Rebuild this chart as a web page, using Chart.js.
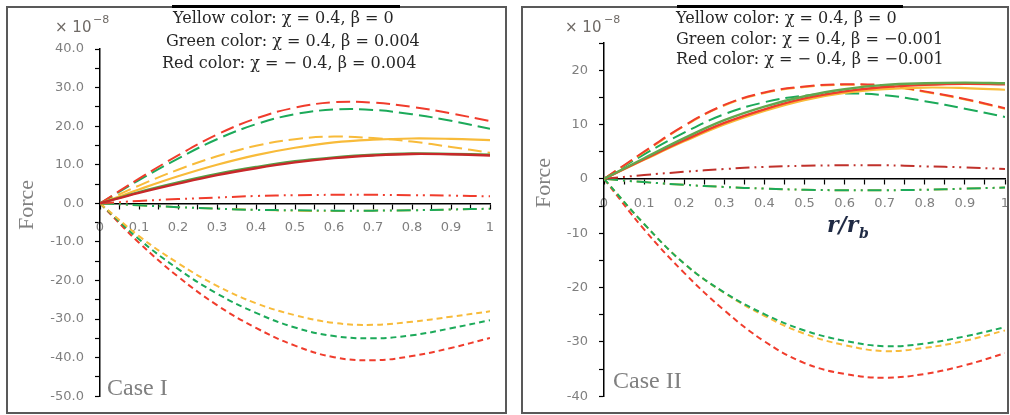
<!DOCTYPE html>
<html>
<head>
<meta charset="utf-8">
<script src="https://cdn.jsdelivr.net/npm/chart.js@4.4.0/dist/chart.umd.min.js"></script>
<style>
  html, body { margin: 0; padding: 0; background: #fff; }
  body { width: 1010px; height: 415px; position: relative; overflow: hidden; }
  canvas { position: absolute; top: 0; }
  .frame { position: absolute; top: 6px; height: 408px; border: 2px solid #595959; box-sizing: border-box; pointer-events: none; }
  .bar { position: absolute; top: 5px; height: 3px; background: #000; }
</style>
</head>
<body>
<canvas id="caseOne" width="505" height="415" style="left:0"></canvas>
<canvas id="caseTwo" width="505" height="415" style="left:505px"></canvas>
<div class="frame" style="left:6px;width:501px"></div>
<div class="frame" style="left:521px;width:488px"></div>
<div class="bar" style="left:172px;width:228px"></div>
<div class="bar" style="left:677px;width:226px"></div>
<script>
// radial coordinate r/r_b
const r = [0, 0.1, 0.2, 0.3, 0.4, 0.5, 0.6, 0.7, 0.8, 0.9, 1];

// Case I  (yellow: chi=0.4, beta=0; green: chi=0.4, beta=0.004; red: chi=-0.4, beta=0.004)
const c1YellowSolid = [0, 3.6, 7.0, 10.0, 12.5, 14.4, 15.8, 16.5, 16.8, 16.7, 16.4];
const c1GreenSolid  = [0, 2.9, 5.4, 7.6, 9.4, 10.9, 11.9, 12.6, 12.9, 12.8, 12.6];
const c1RedSolid    = [0, 2.7, 5.1, 7.3, 9.1, 10.6, 11.7, 12.4, 12.8, 12.7, 12.4];
const c1YellowLong  = [0, 4.6, 8.7, 12.2, 14.9, 16.6, 17.3, 16.9, 16.0, 14.6, 13.1];
const c1GreenLong   = [0, 6.0, 11.6, 16.6, 20.5, 23.1, 24.3, 24.2, 23.1, 21.4, 19.3];
const c1RedLong     = [0, 6.4, 12.4, 17.8, 22.0, 24.8, 26.2, 26.1, 25.0, 23.3, 21.3];
const c1RedDot      = [0, 0.6, 1.1, 1.5, 1.9, 2.1, 2.2, 2.2, 2.1, 2.0, 1.8];
const c1GreenDot    = [0, -0.5, -1.0, -1.4, -1.7, -1.8, -1.9, -1.9, -1.8, -1.6, -1.4];
const c1YellowDot   = [0, -0.5, -1.0, -1.4, -1.7, -1.9, -2.0, -1.9, -1.8, -1.6, -1.4];
const c1YellowShort = [0, -8.5, -15.5, -21.4, -25.9, -29.0, -31.0, -31.5, -30.7, -29.4, -28.0];
const c1GreenShort  = [0, -9.3, -17.0, -23.4, -28.4, -32.2, -34.4, -35.0, -34.2, -32.4, -30.3];
const c1RedShort    = [0, -10.2, -19.0, -26.4, -32.3, -36.9, -39.9, -40.7, -39.6, -37.5, -34.9];

// Case II (yellow: chi=0.4, beta=0; green: chi=0.4, beta=-0.001; red: chi=-0.4, beta=-0.001)
const c2YellowSolid = [0, 3.5, 6.9, 10.0, 12.5, 14.5, 15.8, 16.5, 16.8, 16.7, 16.4];
const c2GreenSolid  = [0, 3.8, 7.5, 10.8, 13.3, 15.2, 16.5, 17.3, 17.6, 17.7, 17.6];
const c2RedSolid    = [0, 3.6, 7.1, 10.3, 12.8, 14.8, 16.1, 16.9, 17.3, 17.5, 17.4];
const c2YellowLong  = [0, 4.9, 9.7, 13.5, 15.8, 16.9, 17.3, 17.1, 16.0, 14.6, 12.9];
const c2GreenLong   = [0, 4.5, 8.5, 11.9, 14.1, 15.3, 15.7, 15.4, 14.3, 12.9, 11.4];
const c2RedLong     = [0, 5.0, 9.8, 13.6, 15.9, 17.0, 17.4, 17.2, 16.1, 14.7, 13.0];
const c2RedDot      = [0, 0.7, 1.3, 1.8, 2.2, 2.4, 2.5, 2.5, 2.3, 2.1, 1.8];
const c2GreenDot    = [0, -0.6, -1.1, -1.5, -1.8, -2.0, -2.1, -2.1, -2.0, -1.8, -1.6];
const c2YellowDot   = [0, -0.6, -1.1, -1.5, -1.8, -2.0, -2.1, -2.1, -2.0, -1.8, -1.6];
const c2YellowShort = [0, -8.3, -15.6, -21.0, -25.2, -28.5, -30.6, -31.7, -31.1, -29.8, -27.9];
const c2GreenShort  = [0, -8.3, -15.6, -20.9, -24.9, -27.9, -29.8, -30.8, -30.3, -29.0, -27.3];
const c2RedShort    = [0, -9.3, -17.3, -24.2, -29.9, -33.9, -35.9, -36.6, -35.9, -34.3, -32.1];

const YELLOW = '#f8bb3a', GREEN = '#1caa5a', RED = '#f03c2c';
const SOLID = [], LONG = [14, 6], SHORT = [6, 4], DASHDOT = [14, 5, 2, 5, 2, 5];

function line(values, color, dash, width) {
  return {
    data: values.map((v, i) => ({ x: r[i], y: v })),
    borderColor: color,
    borderDash: dash,
    borderWidth: width || 2,
    pointRadius: 0,
    tension: 0.4,
    fill: false
  };
}

// free text drawn on top of the plot (legend lines, labels, multiplier)
function notesPlugin(items) {
  return {
    id: 'notes',
    afterDraw(chart) {
      const ctx = chart.ctx;
      items.forEach(t => {
        ctx.save();
        ctx.font = t.font;
        ctx.fillStyle = t.color;
        ctx.textAlign = t.align || 'left';
        ctx.textBaseline = 'alphabetic';
        ctx.translate(t.x, t.y);
        if (t.rotate) ctx.rotate(t.rotate);
        ctx.fillText(t.text, 0, 0);
        ctx.restore();
      });
    }
  };
}

function makeChart(id, datasets, yMin, yMax, yLabel, area, notes) {
  const axisGrid = { drawOnChartArea: false, drawTicks: true, tickLength: 5, tickColor: '#000', tickWidth: 1.2 };
  const axisBorder = { display: true, color: '#000', width: 1.5 };
  const tickFont = { family: 'DejaVu Sans', size: 13 };
  new Chart(document.getElementById(id), {
    type: 'line',
    data: { datasets: datasets },
    options: {
      responsive: false,
      animation: false,
      devicePixelRatio: 1,
      layout: { padding: { top: area.top, right: area.right, bottom: area.bottom, left: 0 } },
      plugins: { legend: { display: false }, tooltip: { enabled: false } },
      scales: {
        x: {
          type: 'linear', min: 0, max: 1,
          position: { y: 0 },
          grid: axisGrid,
          border: axisBorder,
          ticks: {
            stepSize: 0.05, autoSkip: false, maxRotation: 0, padding: 12,
            color: '#7f7f7f', font: tickFont,
            callback: v => {
              const t = Math.round(v * 100);
              return t % 10 === 0 ? String(t / 100) : '';
            }
          },
          afterFit: s => { s.paddingLeft = 0; s.paddingRight = 0; }
        },
        y: {
          type: 'linear', min: yMin, max: yMax,
          position: 'left',
          grid: axisGrid,
          border: axisBorder,
          ticks: {
            stepSize: 5, autoSkip: false, padding: 11,
            color: '#7f7f7f', font: tickFont,
            callback: v => Math.round(v) % 10 === 0 ? yLabel(Math.round(v)) : ''
          },
          afterFit: s => { s.width = area.left; }
        }
      }
    },
    plugins: [notesPlugin(notes)]
  });
}

const legendFont = "16px 'DejaVu Serif'";
const greyFont = "'Liberation Serif'";

makeChart('caseOne', [
  line(c1RedSolid, '#c8282a', SOLID, 2.4),
  line(c1GreenSolid, '#55a048', SOLID, 2.4),
  line(c1YellowSolid, YELLOW, SOLID, 2.2),
  line(c1RedLong, RED, LONG),
  line(c1GreenLong, GREEN, LONG),
  line(c1YellowLong, YELLOW, LONG),
  line(c1RedDot, RED, DASHDOT),
  line(c1GreenDot, GREEN, DASHDOT),
  line(c1YellowDot, YELLOW, DASHDOT),
  line(c1YellowShort, YELLOW, SHORT),
  line(c1GreenShort, GREEN, SHORT),
  line(c1RedShort, RED, SHORT)
], -50, 40, v => v.toFixed(1), { left: 100, top: 49, right: 15, bottom: 13 }, [
  { text: 'Yellow color: χ = 0.4, β = 0', x: 173, y: 23, font: legendFont, color: '#262626' },
  { text: 'Green color: χ = 0.4, β = 0.004', x: 166, y: 46, font: legendFont, color: '#262626' },
  { text: 'Red color: χ = − 0.4, β = 0.004', x: 162, y: 68, font: legendFont, color: '#262626' },
  { text: '× 10', x: 55, y: 32, font: "15px 'DejaVu Sans'", color: '#6f6a66' },
  { text: '−8', x: 93, y: 23, font: "11px 'DejaVu Sans'", color: '#6f6a66' },
  { text: 'Force', x: 33, y: 205, rotate: -Math.PI / 2, align: 'center', font: '22px ' + greyFont, color: '#808080' },
  { text: 'Case I', x: 107, y: 395, font: '24px ' + greyFont, color: '#808080' }
]);

makeChart('caseTwo', [
  line(c2GreenSolid, '#62a84e', SOLID, 2.4),
  line(c2RedSolid, RED, SOLID, 2.4),
  line(c2YellowSolid, YELLOW, SOLID, 2.2),
  line(c2RedLong, RED, LONG),
  line(c2YellowLong, YELLOW, LONG),
  line(c2GreenLong, GREEN, LONG),
  line(c2RedDot, '#c0312b', DASHDOT),
  line(c2GreenDot, GREEN, DASHDOT),
  line(c2YellowDot, YELLOW, DASHDOT),
  line(c2GreenShort, GREEN, SHORT),
  line(c2YellowShort, YELLOW, SHORT),
  line(c2RedShort, RED, SHORT)
], -40, 25, v => String(v), { left: 99, top: 43, right: 5, bottom: 13 }, [
  { text: 'Yellow color: χ = 0.4, β = 0', x: 171, y: 23, font: legendFont, color: '#262626' },
  { text: 'Green color: χ = 0.4, β = −0.001', x: 171, y: 44, font: legendFont, color: '#262626' },
  { text: 'Red color: χ = − 0.4, β = −0.001', x: 171, y: 64, font: legendFont, color: '#262626' },
  { text: '× 10', x: 60, y: 32, font: "15px 'DejaVu Sans'", color: '#6f6a66' },
  { text: '−8', x: 99, y: 23, font: "11px 'DejaVu Sans'", color: '#6f6a66' },
  { text: 'Force', x: 45, y: 183, rotate: -Math.PI / 2, align: 'center', font: '22px ' + greyFont, color: '#808080' },
  { text: 'r/r', x: 322, y: 232, font: "italic bold 22px 'DejaVu Serif'", color: '#1f2a44' },
  { text: 'b', x: 354, y: 238, font: "italic bold 14px 'DejaVu Serif'", color: '#1f2a44' },
  { text: 'Case II', x: 108, y: 388, font: '24px ' + greyFont, color: '#808080' }
]);
</script>
</body>
</html>
